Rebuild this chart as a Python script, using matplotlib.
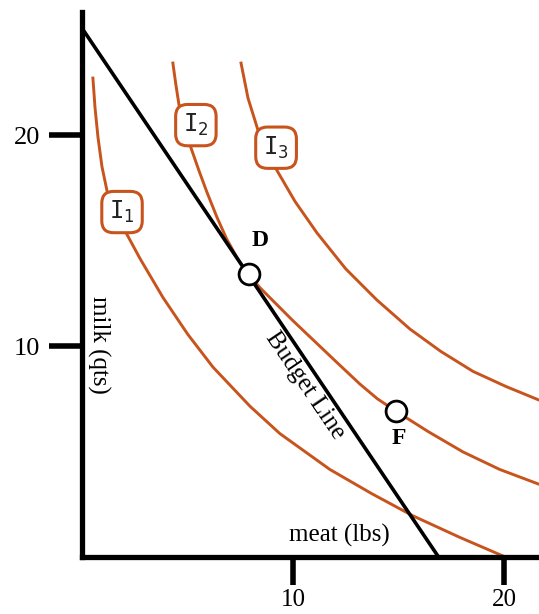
import matplotlib.pyplot as plt

# indifference curves, points (meat lbs, milk qts)
i1_x = [0.52, 0.62, 0.76, 0.95, 1.20, 1.60, 2.10, 2.75, 3.84, 5.02, 6.21, 7.96, 9.38, 11.75, 13.74, 15.69, 17.91, 19.95]
i1_y = [22.70, 21.30, 19.90, 18.50, 17.30, 16.35, 15.35, 14.15, 12.30, 10.55, 9.00, 7.15, 5.85, 4.15, 3.00, 1.95, 0.93, 0.05]

i2_x = [4.31, 4.45, 4.62, 4.85, 5.12, 5.55, 5.92, 6.40, 6.87, 7.40, 7.90, 8.45, 9.05, 10.0, 11.0, 12.0,
        13.17, 14.0, 14.9, 16.4, 18.06, 19.8, 21.66]
i2_y = [23.41, 22.40, 21.30, 20.45, 19.53, 18.30, 17.30, 16.10, 15.05, 14.10, 13.40, 12.75, 12.15, 11.20,
        10.25, 9.30, 8.20, 7.50, 6.90, 5.95, 4.98, 4.15, 3.45]

i3_x = [7.54, 7.87, 8.34, 9.15, 10.1, 11.14, 12.5, 13.98, 15.55, 17.0, 18.53, 20.1, 21.66]
i3_y = [23.41, 21.75, 20.24, 18.48, 16.85, 15.36, 13.66, 12.18, 10.80, 9.75, 8.80, 8.08, 7.44]

budget_x = [0, 16.9]
budget_y = [25.07, 0]

points = {'D': (7.9, 13.4), 'F': (14.9, 6.9)}
curve_labels = ['1', '2', '3']
label_pos = [(1.9, 16.35), (5.4, 20.47), (9.2, 19.4)]

orange = '#c8541d'

fig = plt.figure(figsize=(5.39, 6.14), dpi=100)
ax = fig.add_axes([0.152, 0.0928, 0.848, 0.8876])

for xs, ys in [(i1_x, i1_y), (i2_x, i2_y), (i3_x, i3_y)]:
    ax.plot(xs, ys, color=orange, lw=2.1, zorder=2, solid_joinstyle='round')

ax.plot(budget_x, budget_y, color='black', lw=2.6, zorder=3)

for lab, (lx, ly) in zip(curve_labels, label_pos):
    ax.text(lx, ly, r'$\mathtt{I}_{%s}$' % lab, fontsize=17, ha='center', va='center',
            color='#222222', zorder=4,
            bbox=dict(boxstyle='round,pad=0.32,rounding_size=0.5', fc='white', ec=orange, lw=2.2))

for name, (px, py) in points.items():
    ax.plot(px, py, 'o', ms=15, mfc='white', mec='black', mew=2, zorder=5)

serif = 'Liberation Serif'
ax.text(8.44, 15.0, 'D', fontsize=17, fontweight='bold', family=serif, ha='center', va='center')
ax.text(15.0, 5.64, 'F', fontsize=17, fontweight='bold', family=serif, ha='center', va='center')
ax.text(10.57, 8.15, 'Budget Line', fontsize=18, family=serif, rotation=-56,
        rotation_mode='anchor', ha='center', va='center')
ax.text(0.8, 10.05, 'milk (qts)', fontsize=18, family=serif, rotation=-90, ha='center', va='center')
ax.text(12.2, 1.0, 'meat (lbs)', fontsize=18, family=serif, ha='center', va='center')

ax.set_xlim(0, 21.66)
ax.set_ylim(0, 25.83)
ax.spines['top'].set_visible(False)
ax.spines['right'].set_visible(False)
ax.spines['left'].set_linewidth(3.8)
ax.spines['bottom'].set_linewidth(3.8)
ax.set_xticks([10, 20])
ax.set_yticks([10, 20])
ax.tick_params(axis='y', length=24, width=4, labelsize=19, pad=6)
ax.tick_params(axis='x', length=20, width=4, labelsize=18, pad=3)
for t in ax.get_xticklabels() + ax.get_yticklabels():
    t.set_family(serif)

fig.savefig('out.png', dpi=100)
